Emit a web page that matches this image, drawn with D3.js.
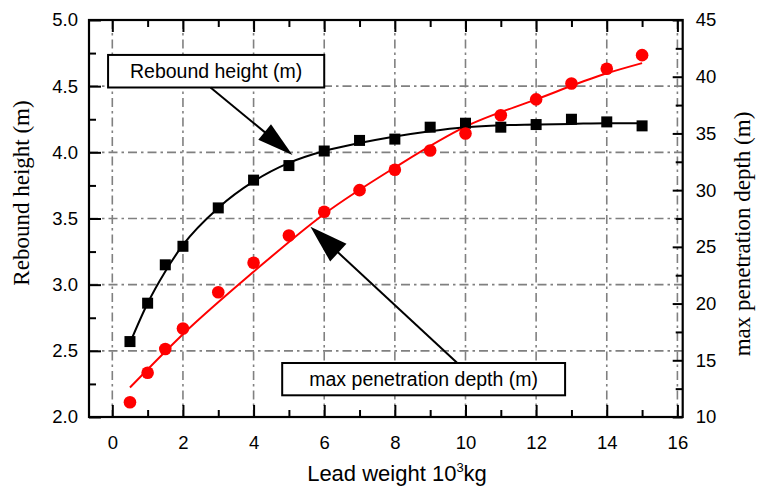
<!DOCTYPE html>
<html><head><meta charset="utf-8">
<script src="https://cdn.jsdelivr.net/npm/d3@7"></script>
<style>body{margin:0;background:#fff}</style>
</head><body><svg id="c" width="760" height="487"></svg>
<script>
// ---- data ----
const weights = [0.5,1,1.5,2,3,4,5,6,7,8,9,10,11,12,13,14,15];
const reboundHeight = [2.57,2.86,3.15,3.29,3.58,3.79,3.90,4.01,4.09,4.10,4.19,4.22,4.19,4.21,4.25,4.23,4.20];
const penetrationDepth = [11.3,13.9,16.0,17.8,21.0,23.6,26.0,28.1,30.0,31.8,33.5,35.0,36.6,38.0,39.4,40.7,41.9];
const reboundFitX = [0.5,1,1.5,2,3,4,5,6,7,8,9,10,11,12,13,14,15];
const reboundFit = [2.56,2.86,3.10,3.30,3.58,3.78,3.92,4.01,4.07,4.12,4.16,4.19,4.205,4.21,4.215,4.22,4.22];
const depthFitX = [0.5,2,4,6,8,10,12,14,15];
const depthFit = [12.6,17.3,22.8,27.9,32.0,35.6,38.0,40.3,41.2];
const xTicks = [0,2,4,6,8,10,12,14,16];
const leftTicks = [2.0,2.5,3.0,3.5,4.0,4.5,5.0];
const rightTicks = [10,15,20,25,30,35,40,45];
// annotations (data units, left axis)
const annoLabels = ["Rebound height (m)", "max penetration depth (m)"];
const annoBoxes = [[-0.12,6.0,4.736,4.49],[4.81,12.82,2.408,2.164]];
const annoFrom = [[2.78,4.49],[9.76,2.41]];
const annoTo = [[5.10,3.98],[5.61,3.437]];
const annoHead = [[36,10],[38,12]];

// ---- layout ----
const L=89, R=682.7, T=20, B=417;
const svg = d3.select("#c");
const x = d3.scaleLinear().domain([-0.66,16.15]).range([L,R]);
const yL = d3.scaleLinear().domain([2,5]).range([B,T]);
const yR = d3.scaleLinear().domain([10,45]).range([B,T]);
const tickFont = "'Liberation Sans', Arial, sans-serif";
const serifFont = "'Liberation Serif', 'Times New Roman', serif";

// grid
const grid = svg.append("g").attr("stroke","#808080").attr("stroke-width",1.6)
  .attr("stroke-dasharray","9,4,2.5,4").attr("fill","none");
grid.selectAll("line.v").data(xTicks).join("line")
  .attr("x1",d=>x(d)).attr("x2",d=>x(d)).attr("y1",T).attr("y2",B);
grid.selectAll("line.h").data(leftTicks.filter(d=>d>2&&d<5)).join("line")
  .attr("x1",L).attr("x2",R).attr("y1",d=>yL(d)).attr("y2",d=>yL(d));

// axes helper
function styleAxis(g){
  g.selectAll(".domain").remove();
  g.selectAll(".tick line").attr("stroke","#000").attr("stroke-width",2);
  g.selectAll("text").attr("font-family",tickFont).attr("font-size","18.5px").attr("fill","#000");
}
const minorX = d3.range(1,17,2);
const minorL = d3.range(2.25,5,0.5);
const minorR = d3.range(12.5,45,5);

// bottom
svg.append("g").attr("transform",`translate(0,${B})`)
  .call(d3.axisBottom(x).tickValues(minorX).tickSize(-7).tickFormat("")).call(styleAxis);
svg.append("g").attr("transform",`translate(0,${B})`)
  .call(d3.axisBottom(x).tickValues(xTicks).tickSize(-12).tickPadding(19).tickFormat(d3.format("d"))).call(styleAxis);
// top
svg.append("g").attr("transform",`translate(0,${T})`)
  .call(d3.axisTop(x).tickValues(minorX).tickSize(-7).tickFormat("")).call(styleAxis);
svg.append("g").attr("transform",`translate(0,${T})`)
  .call(d3.axisTop(x).tickValues(xTicks).tickSize(-12).tickFormat("")).call(styleAxis);
// left
svg.append("g").attr("transform",`translate(${L},0)`)
  .call(d3.axisLeft(yL).tickValues(minorL).tickSize(-7).tickFormat("")).call(styleAxis);
svg.append("g").attr("transform",`translate(${L},0)`)
  .call(d3.axisLeft(yL).tickValues(leftTicks).tickSize(-12).tickPadding(11).tickFormat(d3.format(".1f"))).call(styleAxis);
// right
svg.append("g").attr("transform",`translate(${R},0)`)
  .call(d3.axisRight(yR).tickValues(minorR).tickSize(-7).tickFormat("")).call(styleAxis);
svg.append("g").attr("transform",`translate(${R},0)`)
  .call(d3.axisRight(yR).tickValues(rightTicks).tickSize(-10).tickPadding(13).tickFormat(d3.format("d"))).call(styleAxis);

// frame
svg.append("rect").attr("x",L).attr("y",T).attr("width",R-L).attr("height",B-T)
  .attr("fill","none").attr("stroke","#000").attr("stroke-width",2.2);

// fit curves
const blackLine = d3.line().x((d,i)=>x(reboundFitX[i])).y(d=>yL(d)).curve(d3.curveMonotoneX);
svg.append("path").attr("d",blackLine(reboundFit)).attr("fill","none").attr("stroke","#000").attr("stroke-width",2);
const redLine = d3.line().x((d,i)=>x(depthFitX[i])).y(d=>yR(d)).curve(d3.curveMonotoneX);
svg.append("path").attr("d",redLine(depthFit)).attr("fill","none").attr("stroke","#ff0000").attr("stroke-width",2);

// markers
svg.append("g").selectAll("rect").data(reboundHeight).join("rect")
  .attr("x",(d,i)=>x(weights[i])-5.5).attr("y",d=>yL(d)-5.5).attr("width",11).attr("height",11).attr("fill","#000");
svg.append("g").selectAll("circle").data(penetrationDepth).join("circle")
  .attr("cx",(d,i)=>x(weights[i])).attr("cy",d=>yR(d)).attr("r",6.3).attr("fill","#ff0000");

// annotations
annoLabels.forEach((lab,i)=>{
  const b = annoBoxes[i];
  const x0=x(b[0]), x1=x(b[1]), y0=yL(b[2]), y1=yL(b[3]);
  svg.append("rect").attr("x",x0).attr("y",y0).attr("width",x1-x0).attr("height",y1-y0)
    .attr("fill","#fff").attr("stroke","#000").attr("stroke-width",2);
  svg.append("text").attr("x",(x0+x1)/2).attr("y",(y0+y1)/2+7).attr("text-anchor","middle")
    .attr("font-family",tickFont).attr("font-size","19.5px").text(lab);
  const fx=x(annoFrom[i][0]), fy=yL(annoFrom[i][1]), tx=x(annoTo[i][0]), ty=yL(annoTo[i][1]);
  const dx=tx-fx, dy=ty-fy, len=Math.hypot(dx,dy), ux=dx/len, uy=dy/len;
  const [hl,hw]=annoHead[i];
  const bx=tx-ux*hl, by=ty-uy*hl;
  svg.append("line").attr("x1",fx).attr("y1",fy).attr("x2",bx+ux*2).attr("y2",by+uy*2)
    .attr("stroke","#000").attr("stroke-width",2);
  svg.append("polygon").attr("points",[[tx,ty],[bx-uy*hw,by+ux*hw],[bx+uy*hw,by-ux*hw]].map(p=>p.join(",")).join(" "))
    .attr("fill","#000");
});

// axis titles
const bt = svg.append("text").attr("x",397).attr("y",481).attr("text-anchor","middle")
  .attr("font-family",tickFont).attr("font-size","22px").attr("fill","#000");
bt.append("tspan").text("Lead weight 10");
bt.append("tspan").attr("font-size","13px").attr("dy","-9").text("3");
bt.append("tspan").attr("dy","9").text("kg");

svg.append("text").attr("transform","translate(28.5,193) rotate(-90)").attr("text-anchor","middle")
  .attr("font-family",serifFont).attr("font-size","23px").text("Rebound height (m)");
svg.append("text").attr("transform","translate(750,234) rotate(-90)").attr("text-anchor","middle")
  .attr("font-family",serifFont).attr("font-size","23px").text("max penetration depth (m)");
</script></body></html>
